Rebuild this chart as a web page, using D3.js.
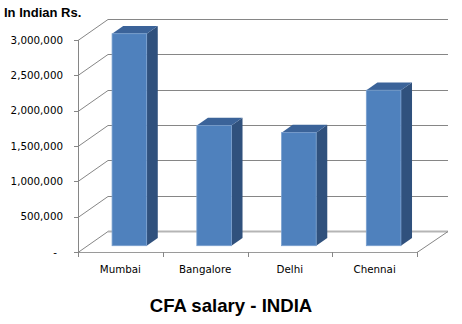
<!DOCTYPE html>
<html>
<head>
<meta charset="utf-8">
<script src="https://cdn.jsdelivr.net/npm/d3@7"></script>
<style>
  html, body { margin: 0; padding: 0; background: #fff; }
  svg { display: block; }
</style>
</head>
<body>
<svg id="chart" width="462" height="324"></svg>
<script>
// Data
const cities = ["Mumbai", "Bangalore", "Delhi", "Chennai"];
const salaries = [3000000, 1700000, 1600000, 2200000];
const tickValues = [0, 500000, 1000000, 1500000, 2000000, 2500000, 3000000];
const tickLabels = ["-", "500,000", "1,000,000", "1,500,000", "2,000,000", "2,500,000", "3,000,000"];
const unitLabel = "In Indian Rs.";
const chartTitle = "CFA salary - INDIA";

const svg = d3.select("#chart");

// Front plane of the 3D box
const plotLeft = 78, plotRight = 417, plotBottom = 252, plotTop = 40;
// Full depth offset of the box (back wall relative to front)
const depthX = 30, depthY = -21;
const off = f => [depthX * f, depthY * f];

const x = d3.scaleBand().domain(cities).range([plotLeft, plotRight]).paddingInner(0).paddingOuter(0);
const y = d3.scaleLinear().domain([0, 3000000]).range([plotBottom, plotTop]);

const gridColor = "#868686";

// Back wall gridlines
const g = svg.append("g");
tickValues.forEach((v, i) => {
  const yy = Math.round(y(v)) + 0.5;
  // left wall diagonal
  g.append("line")
    .attr("x1", plotLeft).attr("y1", yy)
    .attr("x2", plotLeft + depthX).attr("y2", yy + depthY)
    .attr("stroke", gridColor).attr("stroke-width", 1);
  // back wall horizontal
  g.append("line")
    .attr("x1", plotLeft + depthX).attr("y1", yy + depthY)
    .attr("x2", plotRight + depthX + 1).attr("y2", yy + depthY)
    .attr("stroke", i === 0 ? "#b5b5b5" : gridColor)
    .attr("stroke-width", i === 0 ? 2 : 1);
});

// Floor: right diagonal and front edge
g.append("line")
  .attr("x1", plotRight).attr("y1", plotBottom + 0.5)
  .attr("x2", plotRight + depthX + 1).attr("y2", plotBottom + depthY + 0.5)
  .attr("stroke", gridColor);
g.append("line")
  .attr("x1", plotLeft).attr("y1", plotBottom + 0.5)
  .attr("x2", plotRight).attr("y2", plotBottom + 0.5)
  .attr("stroke", "#9a9a9a").attr("stroke-width", 1);

// Category ticks on the floor front edge
const catBounds = cities.map(c => x(c)).concat([plotRight]);
catBounds.forEach(xx => {
  g.append("line")
    .attr("x1", Math.round(xx) + 0.5).attr("y1", plotBottom)
    .attr("x2", Math.round(xx) + 0.5).attr("y2", plotBottom + 5)
    .attr("stroke", gridColor);
});

// Value axis line and ticks
g.append("line")
  .attr("x1", plotLeft + 0.5).attr("y1", plotTop)
  .attr("x2", plotLeft + 0.5).attr("y2", plotBottom + 1)
  .attr("stroke", gridColor);
tickValues.forEach(v => {
  g.append("line")
    .attr("x1", plotLeft - 4).attr("y1", Math.round(y(v)) + 0.5)
    .attr("x2", plotLeft).attr("y2", Math.round(y(v)) + 0.5)
    .attr("stroke", gridColor);
});

// Value tick labels
svg.append("g").selectAll("text")
  .data(tickValues)
  .join("text")
  .attr("x", (d, i) => i === 0 ? 57 : 63)
  .attr("y", d => y(d))
  .attr("dy", "0.35em")
  .attr("text-anchor", "end")
  .attr("font-family", "DejaVu Sans, sans-serif")
  .attr("font-size", 10.3)
  .attr("fill", "#000")
  .text((d, i) => tickLabels[i]);

// 3D bars
const barW = 34.6;
const fFront = 0.3, fBack = 0.67;
const [fx, fy] = off(fFront);
const [bx, by] = off(fBack);
const bars = svg.append("g");
cities.forEach((c, i) => {
  const cx = x(c) + x.bandwidth() / 2 + fx;
  const x0 = cx - barW / 2, x1 = cx + barW / 2;
  const yb = y(0) + fy;
  const yt = y(salaries[i]) + fy;
  const dx = bx - fx, dy = by - fy;
  // side face
  bars.append("path")
    .attr("d", `M${x1},${yt}L${x1 + dx},${yt + dy}L${x1 + dx},${yb + dy}L${x1},${yb}Z`)
    .attr("fill", "#30517d");
  // top face
  bars.append("path")
    .attr("d", `M${x0},${yt}L${x0 + dx},${yt + dy}L${x1 + dx},${yt + dy}L${x1},${yt}Z`)
    .attr("fill", "#3b6399");
  // front face
  bars.append("rect")
    .attr("x", x0).attr("y", yt)
    .attr("width", barW).attr("height", yb - yt)
    .attr("fill", "#4f81bd")
    .attr("stroke", "#7aa0cf").attr("stroke-width", 0.8);
});

// Category labels
svg.append("g").selectAll("text")
  .data(cities)
  .join("text")
  .attr("x", d => x(d) + x.bandwidth() / 2)
  .attr("y", 273)
  .attr("text-anchor", "middle")
  .attr("font-family", "DejaVu Sans, sans-serif")
  .attr("font-size", 10.3)
  .attr("fill", "#000")
  .text(d => d);

// Unit label
svg.append("text")
  .attr("x", 4).attr("y", 17)
  .attr("font-family", "Liberation Sans, Arial, sans-serif")
  .attr("font-weight", "bold")
  .attr("font-size", 13)
  .attr("fill", "#000")
  .text(unitLabel);

// Chart title
svg.append("text")
  .attr("x", 231).attr("y", 311.5)
  .attr("text-anchor", "middle")
  .attr("font-family", "Liberation Sans, Arial, sans-serif")
  .attr("font-weight", "bold")
  .attr("font-size", 18.6)
  .attr("fill", "#000")
  .text(chartTitle);
</script>
</body>
</html>
